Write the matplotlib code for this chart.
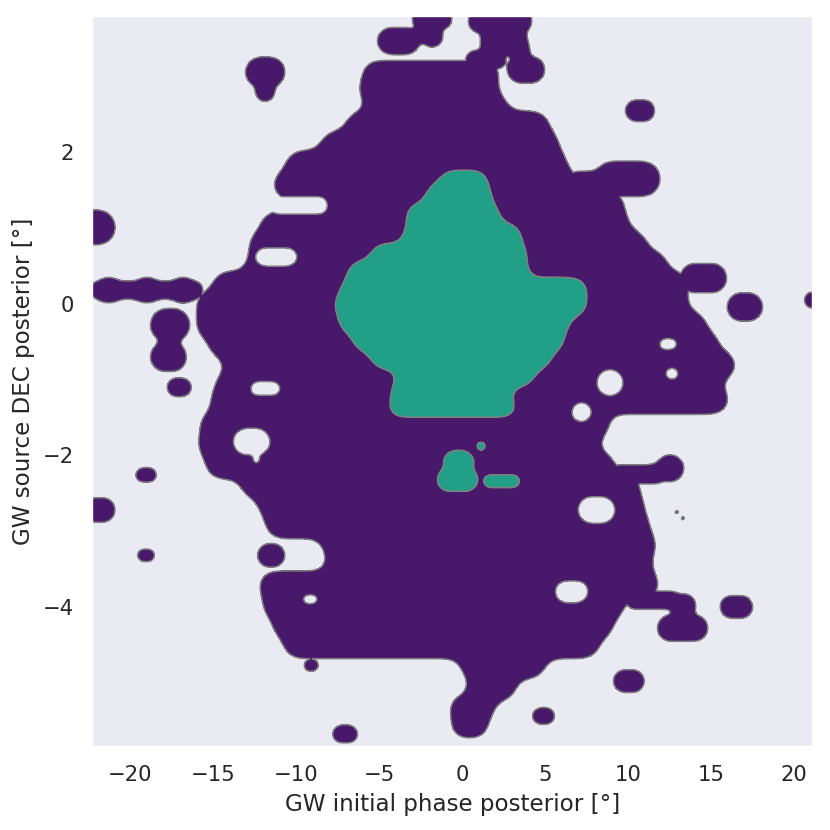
import numpy as np
import matplotlib
matplotlib.use("Agg")
import matplotlib.pyplot as plt
import seaborn as sns

# ---------------------------------------------------------------------------
# Posterior regions, stored as horizontal "capsules":
# declination of the strip, phase extent (left/right) and the cap radius (deg phase).
# ---------------------------------------------------------------------------
# main body of the outer (purple) level, one strip per row
BODY_DEC = [3.06, 2.83, 2.59, 2.36, 2.10, 1.84, 1.57, 1.31, 1.04, 0.78,
            0.52, 0.25, -0.01, -0.28, -0.54, -0.81, -1.07, -1.27, -1.60, -1.86,
            -2.13, -2.39, -2.66, -2.92, -3.18, -3.45, -3.71, -3.98, -4.24, -4.50,
            -4.77, -5.07, -5.33, -5.58]
BODY_LEFT = [-6.02, -6.27, -5.66, -7.05, -8.55, -10.66, -11.45, -8.07, -12.17, -12.89,
             -13.01, -15.06, -16.08, -16.08, -15.30, -14.28, -14.88, -15.18, -15.84, -15.96,
             -15.48, -13.37, -12.29, -11.87, -8.43, -8.19, -12.29, -12.05, -11.45, -10.78,
             -0.12, 0.35, -0.80, -0.70]
BODY_RIGHT = [2.29, 2.17, 2.77, 5.30, 5.90, 6.39, 7.11, 9.82, 10.12, 11.20,
              12.41, 13.73, 13.61, 14.76, 15.54, 16.57, 15.42, 16.14, 8.92, 8.19,
              9.22, 10.72, 11.02, 11.33, 11.75, 11.45, 11.93, 9.82, 9.16, 8.31,
              5.05, 3.30, 2.00, 1.60]
BODY_RAD = [0.72] + [0.85] * 30 + [0.75, 0.75, 0.72]

# satellite lobes and islands of the outer level
SAT_DEC = [3.75, 3.53, 3.47, 3.73, 3.46, 3.33, 3.09, 3.22, 3.06, 2.80,
           1.65, 1.60, -2.17, -2.25, -3.98, -4.28, -3.91,
           0.34, -0.04, 0.05, 2.55, -4.00, -4.98, -5.44, -2.75, -2.83,
           1.01, 0.18, 0.18, 0.18, 0.18, -0.28, -0.70, -1.10, -2.26, -2.72, -3.32,
           -3.32, -4.77, -5.68]
SAT_LEFT = [-3.01, -2.47, -5.12, 0.36, 1.08, 2.89, 2.71, 0.20, -13.07, -12.47,
            8.00, 6.30, 11.68, 8.90, 12.65, 11.75, 9.82,
            13.13, 15.96, 20.60, 9.82, 15.54, 9.10, 4.22, 12.87, 13.23,
            -23.20, -22.40, -22.10, -19.80, -17.60, -18.80, -18.80, -17.80, -19.70, -22.80, -19.60,
            -12.35, -9.55, -7.83]
SAT_RIGHT = [-0.60, -1.14, -2.53, 4.22, 3.98, 4.10, 5.00, 2.60, -10.66, -11.27,
             11.95, 9.00, 13.38, 12.20, 14.10, 14.82, 13.13,
             15.96, 18.13, 21.90, 11.63, 17.53, 11.00, 5.60, 13.03, 13.39,
             -20.90, -15.60, -20.50, -18.20, -16.00, -16.40, -16.60, -16.30, -18.40, -20.90, -18.50,
             -10.66, -8.64, -6.27]
SAT_RAD = [0.55, 0.66, 0.81, 0.72, 0.72, 0.60, 0.80, 0.60, 0.90, 0.60,
           1.05, 0.70, 0.82, 0.60, 0.72, 0.80, 0.55,
           0.90, 0.87, 0.50, 0.66, 0.70, 0.69, 0.50, 0.08, 0.08,
           1.05, 0.55, 0.78, 0.78, 0.78, 1.00, 0.90, 0.57, 0.45, 0.75, 0.40,
           0.72, 0.40, 0.55]

# empty pockets inside the outer level
HOLE_DEC = [0.62, -1.12, -1.82, -2.06, -3.90, -1.04, -0.92, -0.53, -1.43, -2.72, -3.80, 1.30]
HOLE_LEFT = [-12.47, -12.77, -13.80, -12.65, -9.62, 8.13, 12.25, 11.85, 6.60, 6.99, 5.60, -11.60]
HOLE_RIGHT = [-9.94, -10.96, -11.57, -12.15, -8.69, 9.70, 13.05, 12.95, 7.80, 9.22, 7.60, -8.10]
HOLE_RAD = [0.54, 0.42, 0.80, 0.25, 0.28, 0.80, 0.35, 0.32, 0.60, 0.80, 0.65, 0.55]

# inner (teal) level: main core and its small islands
CORE_DEC = [1.66, 1.44, 1.18, 0.91, 0.65, 0.42, 0.21, 0.18, -0.01, -0.24,
            -0.48, -0.71, -0.94, -1.16, -1.38]
CORE_LEFT = [-1.33, -2.23, -3.43, -3.55, -5.54, -6.93, 4.10, -7.35, -7.77, -7.47,
             -6.63, -5.54, -3.86, -4.34, -4.50]
CORE_RIGHT = [1.57, 1.81, 2.29, 3.61, 3.98, 3.98, 7.59, 7.00, 7.59, 6.51,
              6.20, 5.42, 4.40, 2.89, 3.35]
CORE_RAD = [0.50, 0.70, 0.70, 0.70, 0.70, 0.70, 0.60, 0.70, 0.70, 0.70,
            0.70, 0.70, 0.70, 0.70, 0.55]
ISLE_DEC = [-2.09, -2.32, -2.34, -1.88]
ISLE_LEFT = [-1.14, -1.51, 1.27, 0.85]
ISLE_RIGHT = [0.72, 0.96, 3.49, 1.44]
ISLE_RAD = [0.70, 0.70, 0.40, 0.30]

XLIM = (-22.3, 21.15)
YLIM = (-5.85, 3.80)
ASPECT = 0.219   # dec degrees per phase degree of kernel width
K = 2.5
LEVEL = np.exp(-0.5 * K ** 2)
BIG_SMOOTH = (0.48, 0.106)     # edge rounding of the big regions (deg)
SMALL_SMOOTH = (0.18, 0.040)

PURPLE = "#48186a"
TEAL = "#21a087"


def capsule_dn(X, Y, dec, left, right, rad):
    a, b = left + rad, right - rad
    if a > b:
        a = b = 0.5 * (left + right)
    dx = X - np.clip(X, a, b)
    dy = (Y - dec) / ASPECT
    return np.hypot(dx, dy) / rad


def region(X, Y, decs, lefts, rights, rads):
    F = np.zeros_like(X)
    for d, l, r, s in zip(decs, lefts, rights, rads):
        F += np.exp(-0.5 * K ** 2 * capsule_dn(X, Y, d, l, r, s) ** 2)
    return (F > LEVEL).astype(float)


def smooth(A, sig):
    sig_cols = sig[0] / (xs[1] - xs[0])
    sig_rows = sig[1] / (ys[1] - ys[0])
    for axis, s in ((1, sig_cols), (0, sig_rows)):
        n = int(3 * s) + 1
        t = np.arange(-n, n + 1)
        w = np.exp(-0.5 * (t / s) ** 2)
        w /= w.sum()
        pad = [(n, n) if ax == axis else (0, 0) for ax in (0, 1)]
        P = np.pad(A, pad, mode="edge")
        size = A.shape[axis]
        A = sum(wi * np.take(P, np.arange(i, i + size), axis=axis) for i, wi in enumerate(w))
    return A


xs = np.linspace(XLIM[0], XLIM[1], 800)
ys = np.linspace(YLIM[0], YLIM[1], 800)
X, Y = np.meshgrid(xs, ys)

body = smooth(region(X, Y, BODY_DEC, BODY_LEFT, BODY_RIGHT, BODY_RAD), BIG_SMOOTH)

sat_rad = np.asarray(SAT_RAD)
big = sat_rad >= 0.15
sat_arr = [np.asarray(a) for a in (SAT_DEC, SAT_LEFT, SAT_RIGHT)]
sat = smooth(region(X, Y, *[a[big] for a in sat_arr], sat_rad[big]), SMALL_SMOOTH)
specks = region(X, Y, *[a[~big] for a in sat_arr], sat_rad[~big])

g = np.full_like(X, 10.0)
for d, l, r, s in zip(HOLE_DEC, HOLE_LEFT, HOLE_RIGHT, HOLE_RAD):
    g = np.minimum(g, capsule_dn(X, Y, d, l, r, s))
open_area = smooth((g > 1.0).astype(float), SMALL_SMOOTH)

outer = np.maximum(np.minimum(np.maximum(body, sat), open_area), specks)

inner = np.maximum(
    smooth(region(X, Y, CORE_DEC, CORE_LEFT, CORE_RIGHT, CORE_RAD), BIG_SMOOTH),
    smooth(region(X, Y, ISLE_DEC, ISLE_LEFT, ISLE_RIGHT, ISLE_RAD), SMALL_SMOOTH))

sns.set_theme(style="dark")
fig, ax = plt.subplots(figsize=(6, 6), dpi=830 / 6)
fig.subplots_adjust(left=0.111, right=0.9795, bottom=0.1, top=0.9807)

ax.contourf(X, Y, outer, levels=[0.5, 2.0], colors=[PURPLE])
ax.contour(X, Y, outer, levels=[0.5], colors="gray", linewidths=0.8)
ax.contourf(X, Y, inner, levels=[0.5, 2.0], colors=[TEAL])
ax.contour(X, Y, inner, levels=[0.5], colors="gray", linewidths=0.8)

ax.set_xlim(*XLIM)
ax.set_ylim(*YLIM)
ax.set_xticks([-20, -15, -10, -5, 0, 5, 10, 15, 20])
ax.set_yticks([-4, -2, 0, 2])
ax.set_xlabel("GW initial phase posterior [°]")
ax.set_ylabel("GW source DEC posterior [°]")

fig.savefig("out.png", dpi=830 / 6)
